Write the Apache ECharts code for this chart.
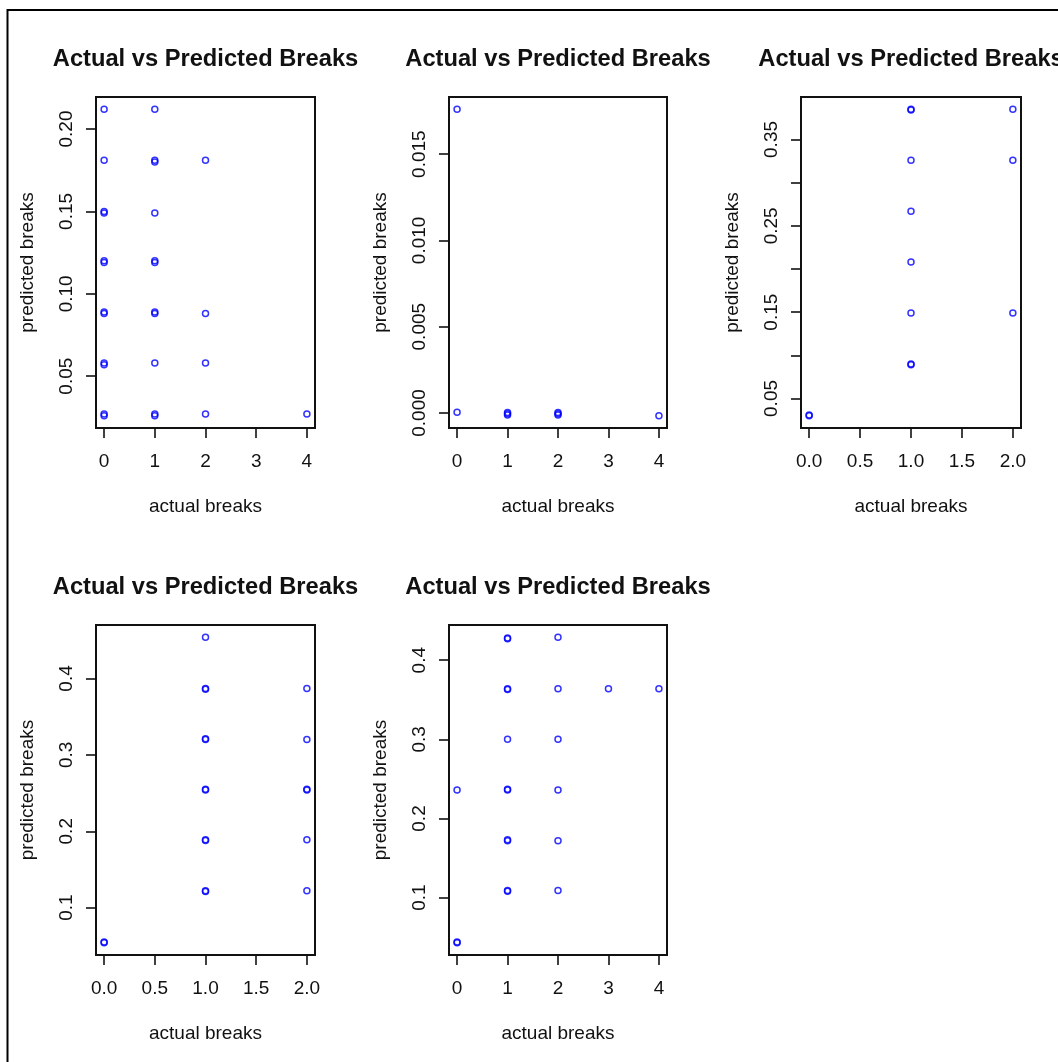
<!DOCTYPE html>
<html>
<head>
<meta charset="utf-8">
<script src="https://cdn.jsdelivr.net/npm/echarts@6/dist/echarts.min.js"></script>
<style>
html,body{margin:0;padding:0;background:#fff;}
#c{width:1058px;height:1062px;}
</style>
</head>
<body>
<div id="c"></div>
<script>
// ---------- data ----------
const titleText = 'Actual vs Predicted Breaks';
const xName = 'actual breaks';
const yName = 'predicted breaks';

// Panel 1
const p1X = [0,0,0,0,0,0,0,0,0,0,0,0, 1,1,1,1,1,1,1,1,1,1,1, 2,2,2,2, 4];
const p1Y = [0.212,0.181,0.150,0.149,0.120,0.119,0.089,0.088,0.058,0.057,0.027,0.026,
             0.212,0.181,0.180,0.149,0.120,0.119,0.089,0.088,0.058,0.027,0.026,
             0.181,0.088,0.058,0.027,
             0.027];
// Panel 2
const p2X = [0,0, 1,1,1, 2,2,2, 4];
const p2Y = [0.0176,0.00004, 0.00003,-0.00004,-0.00011, 0.00003,-0.00004,-0.00011, -0.00016];
// Panel 3
const p3X = [0,0, 1,1,1,1,1,1,1,1, 2,2,2];
const p3Y = [0.031,0.030, 0.385,0.384,0.326,0.267,0.208,0.149,0.090,0.089, 0.385,0.326,0.149];
// Panel 4
const p4X = [0,0, 1,1,1,1,1,1,1,1,1,1,1, 2,2,2,2,2,2];
const p4Y = [0.055,0.054, 0.454,0.387,0.386,0.321,0.320,0.255,0.254,0.189,0.188,0.122,0.121,
             0.387,0.320,0.255,0.254,0.189,0.122];
// Panel 5
const p5X = [0,0,0, 1,1,1,1,1,1,1,1,1,1,1, 2,2,2,2,2,2, 3, 4];
const p5Y = [0.236,0.044,0.043, 0.428,0.427,0.364,0.363,0.300,0.237,0.236,0.173,0.172,0.109,0.108,
             0.429,0.364,0.300,0.236,0.172,0.109, 0.364, 0.364];

// tick values
const xTicksInt = [0,1,2,3,4];
const xTicksHalf = [0,0.5,1,1.5,2];
const p1YTicks = [0.05,0.10,0.15,0.20];
const p2YTicks = [0,0.005,0.010,0.015];
const p3YTicks = [0.05,0.10,0.15,0.20,0.25,0.30,0.35];
const p3YLabels = [0.05,0.15,0.25,0.35];
const p45YTicks = [0.1,0.2,0.3,0.4];

// ---------- layout ----------
const FONT = '"Liberation Sans", Arial, sans-serif';
const panels = [
  {xs:p1X, ys:p1Y, grid:{left:96,top:97,width:219,height:331}, xT:xTicksInt, xL:xTicksInt, xD:0, yT:p1YTicks, yL:p1YTicks, yD:2},
  {xs:p2X, ys:p2Y, grid:{left:449,top:97,width:218,height:331}, xT:xTicksInt, xL:xTicksInt, xD:0, yT:p2YTicks, yL:p2YTicks, yD:3},
  {xs:p3X, ys:p3Y, grid:{left:801,top:97,width:220,height:331}, xT:xTicksHalf, xL:xTicksHalf, xD:1, yT:p3YTicks, yL:p3YLabels, yD:2},
  {xs:p4X, ys:p4Y, grid:{left:96,top:625,width:219,height:330}, xT:xTicksHalf, xL:xTicksHalf, xD:1, yT:p45YTicks, yL:p45YTicks, yD:1},
  {xs:p5X, ys:p5Y, grid:{left:449,top:625,width:218,height:330}, xT:xTicksInt, xL:xTicksInt, xD:0, yT:p45YTicks, yL:p45YTicks, yD:1}
];

function ext(arr){
  const mn = Math.min(...arr), mx = Math.max(...arr), r = mx - mn;
  return [mn - 0.04*r, mx + 0.04*r];
}

const grids = [], xAxes = [], yAxes = [], series = [], graphics = [];
const lineStyle = {color:'#111', width:1.6};
panels.forEach((p,i)=>{
  grids.push(Object.assign({show:true, borderColor:'#111', borderWidth:2, backgroundColor:'transparent', containLabel:false}, p.grid));
  const [xmn,xmx] = ext(p.xs), [ymn,ymx] = ext(p.ys);
  xAxes.push({
    type:'value', gridIndex:i, min:xmn, max:xmx,
    axisLine:{show:true, onZero:false, lineStyle:{color:'#111', width:2}},
    axisTick:{show:true, length:10, inside:false, customValues:p.xT, lineStyle},
    axisLabel:{show:true, customValues:p.xL, margin:24, color:'#111', fontSize:19, fontFamily:FONT,
      formatter:v=>Number(v).toFixed(p.xD)},
    splitLine:{show:false},
    name:xName, nameLocation:'middle', nameGap:69,
    nameTextStyle:{color:'#111', fontSize:19, fontFamily:FONT}
  });
  yAxes.push({
    type:'value', gridIndex:i, min:ymn, max:ymx,
    axisLine:{show:true, onZero:false, lineStyle:{color:'#111', width:2}},
    axisTick:{show:true, length:10, inside:false, customValues:p.yT, lineStyle},
    axisLabel:{show:true, customValues:p.yL, rotate:90, margin:20, color:'#111', fontSize:19, fontFamily:FONT,
      formatter:v=>Number(v).toFixed(p.yD)},
    splitLine:{show:false},
    name:yName, nameLocation:'middle', nameGap:59,
    nameTextStyle:{color:'#111', fontSize:19, fontFamily:FONT}
  });
  series.push({
    type:'scatter', xAxisIndex:i, yAxisIndex:i,
    data:p.xs.map((x,k)=>[x,p.ys[k]]),
    symbol:'circle', symbolSize:6,
    itemStyle:{color:'rgba(0,0,0,0)', borderColor:'#0000ff', borderWidth:1.5},
    emphasis:{disabled:true}, silent:true, animation:false
  });
  graphics.push({
    type:'text', silent:true,
    x:p.grid.left + p.grid.width/2, y:p.grid.top - 38,
    style:{text:titleText, fill:'#111', fontSize:23.7, fontWeight:'bold', fontFamily:FONT,
      align:'center', verticalAlign:'middle'}
  });
});
graphics.push({
  type:'rect', silent:true,
  shape:{x:7.5, y:10, width:1100, height:1100},
  style:{fill:null, stroke:'#000', lineWidth:2}
});

const chart = echarts.init(document.getElementById('c'), null, {renderer:'canvas'});
chart.setOption({
  backgroundColor:'#fff',
  animation:false,
  grid:grids, xAxis:xAxes, yAxis:yAxes, series:series,
  graphic:graphics
});
</script>
</body>
</html>
